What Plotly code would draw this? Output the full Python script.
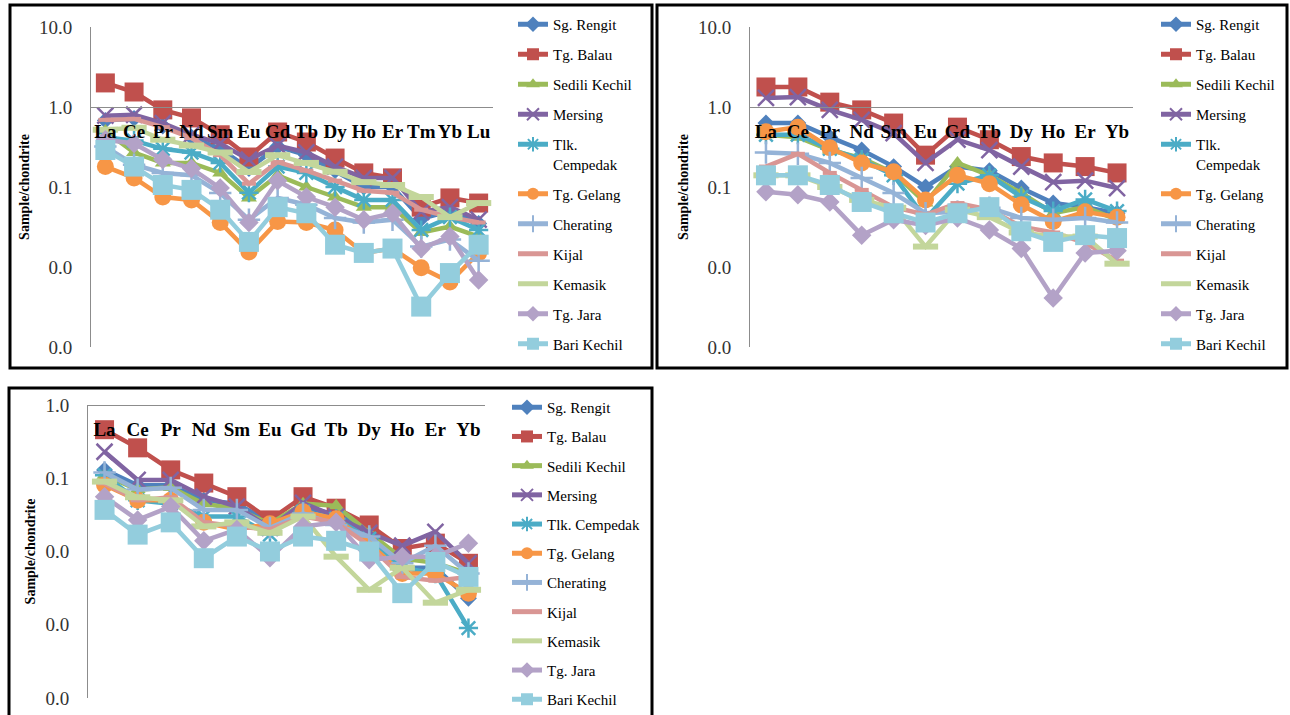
import plotly.graph_objects as go

W, H = 1290, 715

series_names = ["Sg. Rengit", "Tg. Balau", "Sedili Kechil", "Mersing", "Tlk. Cempedak",
                "Tg. Gelang", "Cherating", "Kijal", "Kemasik", "Tg. Jara", "Bari Kechil"]

ree_14 = ["La", "Ce", "Pr", "Nd", "Sm", "Eu", "Gd", "Tb", "Dy", "Ho", "Er", "Tm", "Yb", "Lu"]
ree_12 = ["La", "Ce", "Pr", "Nd", "Sm", "Eu", "Gd", "Tb", "Dy", "Ho", "Er", "Yb"]

# Panel 1 (top-left)
p1_sg_rengit = [0.68, 0.72, 0.58, 0.42, 0.30, 0.17, 0.32, 0.25, 0.16, 0.10, 0.10, 0.040, 0.050, 0.035]
p1_tg_balau = [2.0, 1.54, 0.92, 0.73, 0.45, 0.237, 0.487, 0.365, 0.23, 0.15, 0.13, 0.056, 0.073, 0.063]
p1_sedili_kechil = [0.50, 0.27, 0.20, 0.20, 0.15, 0.073, 0.14, 0.10, 0.075, 0.056, 0.056, 0.027, 0.032, 0.024]
p1_mersing = [0.78, 0.80, 0.63, 0.45, 0.35, 0.22, 0.33, 0.27, 0.18, 0.13, 0.13, 0.049, 0.056, 0.039]
p1_tlk_cempedak = [0.42, 0.38, 0.30, 0.27, 0.20, 0.085, 0.18, 0.15, 0.10, 0.069, 0.069, 0.029, 0.042, 0.029]
p1_tg_gelang = [0.18, 0.13, 0.075, 0.069, 0.036, 0.0154, 0.037, 0.036, 0.029, 0.015, 0.017, 0.0098, 0.0065, 0.015]
p1_cherating = [0.32, 0.19, 0.15, 0.14, 0.084, 0.039, 0.073, 0.06, 0.041, 0.036, 0.039, 0.018, 0.022, 0.012]
p1_kijal = [0.69, 0.71, 0.56, 0.41, 0.25, 0.11, 0.205, 0.16, 0.12, 0.09, 0.085, 0.052, 0.042, 0.036]
p1_kemasik = [0.52, 0.55, 0.39, 0.33, 0.27, 0.154, 0.25, 0.20, 0.155, 0.115, 0.106, 0.075, 0.042, 0.063]
p1_tg_jara = [0.39, 0.35, 0.22, 0.17, 0.097, 0.036, 0.12, 0.075, 0.056, 0.039, 0.047, 0.017, 0.024, 0.0069]
p1_bari_kechil = [0.29, 0.18, 0.106, 0.092, 0.052, 0.0206, 0.056, 0.047, 0.019, 0.015, 0.017, 0.0032, 0.0084, 0.019]

# Panel 2 (top-right)
p2_sg_rengit = [0.63, 0.63, 0.42, 0.29, 0.18, 0.10, 0.18, 0.16, 0.097, 0.063, 0.056, 0.047]
p2_tg_balau = [1.78, 1.78, 1.15, 0.92, 0.63, 0.25, 0.56, 0.39, 0.24, 0.20, 0.18, 0.15]
p2_sedili_kechil = [0.45, 0.42, 0.29, 0.23, 0.15, 0.063, 0.20, 0.14, 0.084, 0.047, 0.056, 0.039]
p2_mersing = [1.30, 1.33, 0.92, 0.69, 0.47, 0.20, 0.39, 0.29, 0.18, 0.115, 0.12, 0.097]
p2_tlk_cempedak = [0.45, 0.45, 0.30, 0.22, 0.14, 0.040, 0.11, 0.14, 0.075, 0.050, 0.070, 0.050]
p2_tg_gelang = [0.49, 0.56, 0.31, 0.20, 0.155, 0.069, 0.14, 0.11, 0.060, 0.037, 0.049, 0.042]
p2_cherating = [0.27, 0.26, 0.20, 0.13, 0.084, 0.047, 0.049, 0.055, 0.041, 0.039, 0.041, 0.036]
p2_kijal = [0.18, 0.26, 0.15, 0.092, 0.056, 0.045, 0.063, 0.052, 0.032, 0.027, 0.020, 0.012]
p2_kemasik = [0.14, 0.14, 0.10, 0.069, 0.055, 0.018, 0.052, 0.042, 0.027, 0.024, 0.024, 0.011]
p2_tg_jara = [0.087, 0.080, 0.065, 0.025, 0.039, 0.033, 0.041, 0.029, 0.017, 0.0041, 0.015, 0.016]
p2_bari_kechil = [0.14, 0.14, 0.106, 0.065, 0.047, 0.036, 0.047, 0.056, 0.028, 0.0206, 0.025, 0.023]

# Panel 3 (bottom-left)
p3_sg_rengit = [0.13, 0.08, 0.08, 0.05, 0.045, 0.025, 0.04, 0.032, 0.02, 0.006, 0.006, 0.0023]
p3_tg_balau = [0.46, 0.26, 0.13, 0.086, 0.056, 0.027, 0.056, 0.039, 0.023, 0.011, 0.013, 0.0069]
p3_sedili_kechil = [0.11, 0.07, 0.075, 0.045, 0.038, 0.024, 0.045, 0.042, 0.018, 0.008, 0.007, 0.005]
p3_mersing = [0.23, 0.095, 0.095, 0.056, 0.041, 0.021, 0.046, 0.030, 0.018, 0.012, 0.0185, 0.0069]
p3_tlk_cempedak = [0.11, 0.05, 0.045, 0.03, 0.03, 0.017, 0.035, 0.028, 0.015, 0.006, 0.005, 0.0009]
p3_tg_gelang = [0.081, 0.05, 0.05, 0.025, 0.02, 0.024, 0.035, 0.028, 0.013, 0.005, 0.005, 0.0027]
p3_cherating = [0.12, 0.07, 0.074, 0.037, 0.037, 0.021, 0.033, 0.023, 0.016, 0.0069, 0.012, 0.005]
p3_kijal = [0.085, 0.05, 0.055, 0.025, 0.022, 0.02, 0.03, 0.025, 0.012, 0.0045, 0.004, 0.0045]
p3_kemasik = [0.09, 0.055, 0.05, 0.022, 0.025, 0.018, 0.03, 0.0085, 0.003, 0.006, 0.002, 0.003]
p3_tg_jara = [0.056, 0.027, 0.041, 0.014, 0.02, 0.0082, 0.022, 0.025, 0.0077, 0.0085, 0.0085, 0.013]
p3_bari_kechil = [0.037, 0.017, 0.025, 0.0081, 0.016, 0.01, 0.016, 0.014, 0.01, 0.0027, 0.0072, 0.0045]

y_ticks_top = [10, 1, 0.1, 0.01, 0.001]
y_ticktext_top = ["10.0", "1.0", "0.1", "0.0", "0.0"]
y_ticks_bottom = [1, 0.1, 0.01, 0.001, 0.0001]
y_ticktext_bottom = ["1.0", "0.1", "0.0", "0.0", "0.0"]

panel1 = [p1_sg_rengit, p1_tg_balau, p1_sedili_kechil, p1_mersing, p1_tlk_cempedak, p1_tg_gelang,
          p1_cherating, p1_kijal, p1_kemasik, p1_tg_jara, p1_bari_kechil]
panel2 = [p2_sg_rengit, p2_tg_balau, p2_sedili_kechil, p2_mersing, p2_tlk_cempedak, p2_tg_gelang,
          p2_cherating, p2_kijal, p2_kemasik, p2_tg_jara, p2_bari_kechil]
panel3 = [p3_sg_rengit, p3_tg_balau, p3_sedili_kechil, p3_mersing, p3_tlk_cempedak, p3_tg_gelang,
          p3_cherating, p3_kijal, p3_kemasik, p3_tg_jara, p3_bari_kechil]

colors = ["#4F81BD", "#C0504D", "#9BBB59", "#8064A2", "#4BACC6", "#F79646",
          "#95B3D7", "#D99694", "#C3D69B", "#B3A2C7", "#93CDDD"]
symbols = ["diamond", "square", "triangle-up", "x-thin", "asterisk", "circle",
           "cross-thin", "line-ew", "line-ew", "diamond", "square"]
sizes = [13, 19, 14, 16, 16, 17, 16, 10, 18, 15, 20]
mline = [0, 0, 0, 2.5, 2.5, 0, 2.5, 4, 6, 0, 0]

SERIF = "Liberation Serif, Times New Roman, serif"

fig = go.Figure()

def px_x(p):
    return p / W

def px_y(p):
    return 1 - p / H

panels = [
    dict(data=panel1, cats=ree_14, xa="x", ya="y", legend="legend", wrap=True),
    dict(data=panel2, cats=ree_12, xa="x2", ya="y2", legend="legend2", wrap=True),
    dict(data=panel3, cats=ree_12, xa="x3", ya="y3", legend="legend3", wrap=False),
]

for pi, p in enumerate(panels):
    for i, name in enumerate(series_names):
        label = name
        if p["wrap"] and name == "Tlk. Cempedak":
            label = "Tlk.<br>Cempedak"
        fig.add_trace(go.Scatter(
            x=p["cats"], y=p["data"][i], name=label, mode="lines+markers",
            xaxis=p["xa"], yaxis=p["ya"], legend=p["legend"],
            legendgroup=f"p{pi}_{i}",
            line=dict(color=colors[i], width=4.5),
            marker=dict(symbol=symbols[i], size=sizes[i], color=colors[i],
                        line=dict(color=colors[i], width=mline[i])),
            hoverinfo="skip",
        ))

axis_line = "#8C8C8C"
cat_font = dict(family=SERIF, size=19, color="black", weight="bold")
ytick_font = dict(family=SERIF, size=19, color="#333333")
ytitle = dict(text="Sample/chondrite", font=dict(family=SERIF, size=14, color="black", weight="bold"), standoff=6)
legend_font = dict(family=SERIF, size=15, color="black")

layout = dict(
    width=W, height=H, margin=dict(l=0, r=0, t=0, b=0, autoexpand=False),
    paper_bgcolor="white", plot_bgcolor="rgba(0,0,0,0)", showlegend=True,
    # Panel 1
    xaxis=dict(domain=[px_x(91), px_x(493)], type="category", range=[-0.5, 13.5],
               anchor="free", position=px_y(107), showline=True, linecolor=axis_line,
               linewidth=1, showgrid=False, ticks="", tickfont=cat_font,
               ticklabelstandoff=7, zeroline=False),
    yaxis=dict(domain=[px_y(347), px_y(27)], type="log", range=[-3, 1], anchor="x",
               tickvals=y_ticks_top, ticktext=y_ticktext_top, showline=True,
               linecolor=axis_line, showgrid=False, ticks="", tickfont=ytick_font,
               ticklabelstandoff=14, title=ytitle, zeroline=False),
    # Panel 2
    xaxis2=dict(domain=[px_x(750), px_x(1133)], type="category", range=[-0.5, 11.5],
                anchor="free", position=px_y(107), showline=True, linecolor=axis_line,
                linewidth=1, showgrid=False, ticks="", tickfont=cat_font,
                ticklabelstandoff=7, zeroline=False),
    yaxis2=dict(domain=[px_y(347), px_y(27)], type="log", range=[-3, 1], anchor="x2",
                tickvals=y_ticks_top, ticktext=y_ticktext_top, showline=True,
                linecolor=axis_line, showgrid=False, ticks="", tickfont=ytick_font,
                ticklabelstandoff=14, title=ytitle, zeroline=False),
    # Panel 3
    xaxis3=dict(domain=[px_x(88), px_x(485)], type="category", range=[-0.5, 11.5],
                anchor="free", position=px_y(405), showline=True, linecolor=axis_line,
                linewidth=1, showgrid=False, ticks="", tickfont=cat_font,
                ticklabelstandoff=7, zeroline=False),
    yaxis3=dict(domain=[px_y(698), px_y(405)], type="log", range=[-4, 0], anchor="x3",
                tickvals=y_ticks_bottom, ticktext=y_ticktext_bottom, showline=True,
                linecolor=axis_line, showgrid=False, ticks="", tickfont=ytick_font,
                ticklabelstandoff=14, title=ytitle, zeroline=False),
    legend=dict(x=px_x(513), y=px_y(8), xanchor="left", yanchor="top",
                font=legend_font, bgcolor="rgba(0,0,0,0)", itemsizing="constant",
                tracegroupgap=7.5, valign="top"),
    legend2=dict(x=px_x(1156), y=px_y(8), xanchor="left", yanchor="top",
                 font=legend_font, bgcolor="rgba(0,0,0,0)", itemsizing="constant",
                 tracegroupgap=7.5, valign="top"),
    legend3=dict(x=px_x(507), y=px_y(391), xanchor="left", yanchor="top",
                 font=legend_font, bgcolor="rgba(0,0,0,0)", itemsizing="constant",
                 tracegroupgap=6.7, valign="top"),
    shapes=[
        dict(type="rect", xref="paper", yref="paper", x0=px_x(10), x1=px_x(652),
             y0=px_y(368), y1=px_y(5), line=dict(color="black", width=3)),
        dict(type="rect", xref="paper", yref="paper", x0=px_x(657), x1=px_x(1287),
             y0=px_y(368), y1=px_y(5), line=dict(color="black", width=3)),
        dict(type="rect", xref="paper", yref="paper", x0=px_x(9), x1=px_x(652),
             y0=px_y(725), y1=px_y(388), line=dict(color="black", width=3)),
    ],
)
fig.update_layout(**layout)

post = ("document.body.style.margin='0px';"
        "document.body.style.overflow='hidden';"
        "var gd=document.getElementById('{plot_id}');"
        "gd.style.position='fixed';gd.style.left='0px';gd.style.top='0px';")

fig.write_html("out.html", post_script=post, config={"displayModeBar": False})
